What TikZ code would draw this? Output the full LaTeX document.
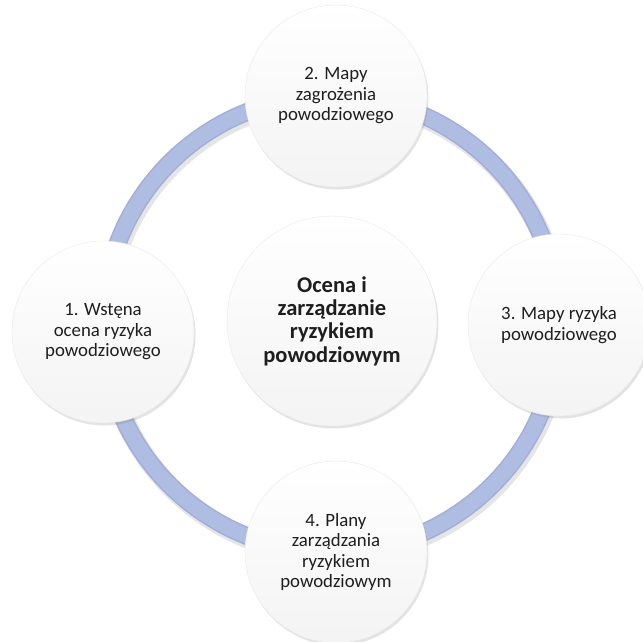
\documentclass[tikz,border=0pt]{standalone}
\usepackage{fontspec}
\setmainfont{Carlito}
\usetikzlibrary{shadows}
\definecolor{ringblue}{HTML}{B0BDE2}
\definecolor{ringedge}{HTML}{A0AED8}
\definecolor{textgray}{HTML}{1E1E1E}

\begin{document}
\begin{tikzpicture}[x=1pt, y=-1pt,
    stage/.style={circle, minimum size=182pt, inner sep=0pt, align=center,
                  top color=white, bottom color=gray!9, draw=gray!18,
                  font=\fontsize{18.8}{20.5}\selectfont, text=textgray,
                  drop shadow={opacity=0.22, shadow xshift=1.5pt, shadow yshift=-2.5pt}},
    hub/.style={stage, minimum size=210pt, font=\fontsize{22.5}{23.3}\selectfont\bfseries},
    ring/.style={line width=18pt, draw=ringedge}
]
\useasboundingbox (0,0) rectangle (643,641);
% --- ring ---
\coordinate (mid) at (331,324);
\draw[ring, draw=black, opacity=0.10, line width=20pt] ([shift={(2,3)}]mid) circle[radius=228];
\draw[ring] (mid) circle[radius=228];
\draw[ring, draw=ringblue, line width=15pt] (mid) circle[radius=228];

% --- centre ---
\node[hub] (core) at (332,321) {Ocena i\\zarządzanie\\ryzykiem\\powodziowym};

% --- stages ---
\node[stage] (s1) at (103,332) {1. Wstęna\\ocena ryzyka\\powodziowego};
\node[stage] (s2) at (336,96)  {2. Mapy\\zagrożenia\\powodziowego};
\node[stage] (s3) at (559,325) {3. Mapy ryzyka\\powodziowego};
\node[stage] (s4) at (336,552) {4. Plany\\zarządzania\\ryzykiem\\powodziowym};

\end{tikzpicture}
\end{document}
